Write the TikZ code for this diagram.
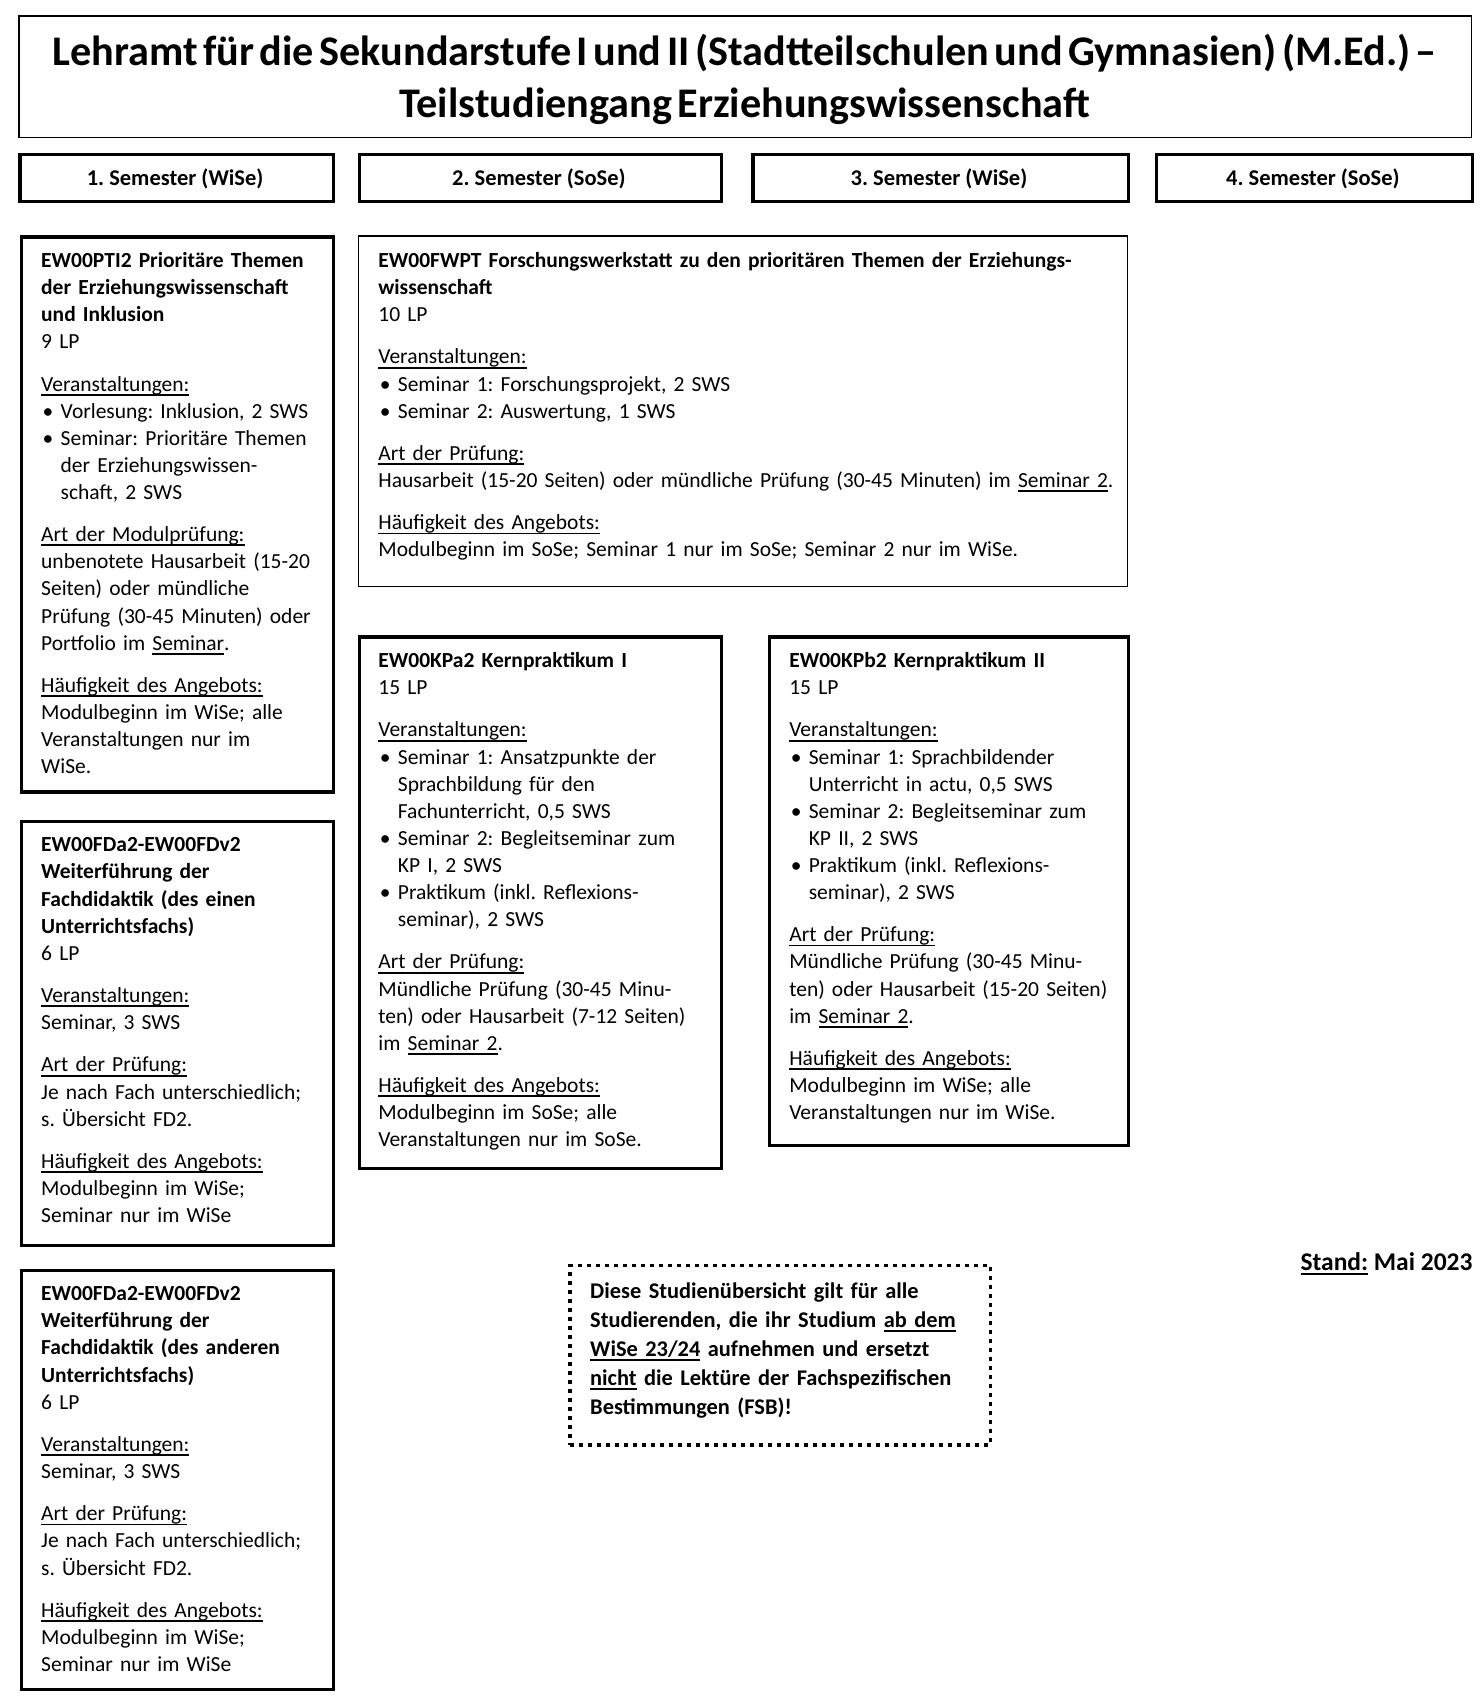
\documentclass[tikz,border=0pt]{standalone}
\usepackage{fontspec}
\setmainfont{Carlito}
\frenchspacing
\newcommand\myul[1]{\leavevmode{\setbox0\hbox{#1}\rlap{\rule[-4.6pt]{\wd0}{1.9pt}}\box0}}
\newcommand\bul{\makebox[19.5pt][l]{\hspace{1.5pt}\textbullet}}
\newcommand\ind{\leavevmode\hspace*{19.5pt}}
\newcommand\pgap{\\[15.2pt]}
\newcommand\bodyf{\fontsize{21.5pt}{27.1pt}\selectfont\frenchspacing}
\newcommand\titlef{\fontsize{42.2pt}{52.3pt}\selectfont\bfseries\spaceskip=0.13em\relax}
\tikzset{
  thinbox/.style={draw, line width=1.3pt, inner sep=0pt, anchor=north west},
  thickbox/.style={draw, line width=3.2pt, inner sep=0pt, anchor=north west},
  dotbox/.style={draw, line width=3.3pt, dash pattern=on 4.5pt off 4.5pt, inner sep=0pt, anchor=north west},
  modtext/.style={anchor=base west, inner sep=0pt, outer sep=0pt, align=left, text width=#1, font=\bodyf},
  semtext/.style={anchor=base, inner sep=0pt, font=\fontsize{22.5pt}{27pt}\selectfont\bfseries},
  titletext/.style={anchor=base, inner sep=0pt, font=\titlef},
}
\begin{document}
\begin{tikzpicture}[x=1pt,y=-1pt]
\fill[white] (0,0) rectangle (1481,1700);
\useasboundingbox (0,0) rectangle (1481,1700);

% title
\node[thinbox, minimum width=1452.6pt, minimum height=121.4pt] (titlebox) at (18.4,15.2) {};
\node[titletext] (title1) at (744.7,65.5) {Lehramt für die Sekundarstufe I und II (Stadtteilschulen und Gymnasien) (M.Ed.) –};
\node[titletext] (title2) at (744.7,117.8) {Teilstudiengang Erziehungswissenschaft};

% semester headers
\node[thickbox, minimum width=313.4pt, minimum height=46.6pt] (s1) at (18.4,152.9) {};
\node[thickbox, minimum width=362.1pt, minimum height=46.6pt] (s2) at (357.8,152.9) {};
\node[thickbox, minimum width=375.1pt, minimum height=46.6pt] (s3) at (751.4,152.9) {};
\node[thickbox, minimum width=316.3pt, minimum height=46.6pt] (s4) at (1154.7,152.9) {};
\node[semtext] (s1t) at (175.1,185) {1. Semester (WiSe)};
\node[semtext] (s2t) at (538.9,185) {2. Semester (SoSe)};
\node[semtext] (s3t) at (939,185) {3. Semester (WiSe)};
\node[semtext] (s4t) at (1312.9,185) {4. Semester (SoSe)};

% column 1
\node[thickbox, minimum width=312.3pt, minimum height=555.1pt] (pti) at (19.5,235.3) {};
\node[modtext=300pt] (ptit) at (41.2,267.4) {%
\textbf{EW00PTI2 Prioritäre Themen}\\
\textbf{der Erziehungswissenschaft}\\
\textbf{und Inklusion}\\
9 LP\pgap
\myul{Veranstaltungen:}\\
\bul Vorlesung: Inklusion, 2 SWS\\
\bul Seminar: Prioritäre Themen\\
\ind der Erziehungswissen-\\
\ind schaft, 2 SWS\pgap
\myul{Art der Modulprüfung:}\\
unbenotete Hausarbeit (15-20\\
Seiten) oder mündliche\\
Prüfung (30-45 Minuten) oder\\
Portfolio im \myul{Seminar}.\pgap
\myul{Häufigkeit des Angebots:}\\
Modulbeginn im WiSe; alle\\
Veranstaltungen nur im\\
WiSe.};

\node[thickbox, minimum width=312.3pt, minimum height=423.9pt] (fda) at (19.5,819.7) {};
\node[modtext=300pt] (fdat) at (41.2,851.8) {%
\textbf{EW00FDa2-EW00FDv2}\\
\textbf{Weiterführung der}\\
\textbf{Fachdidaktik (des einen}\\
\textbf{Unterrichtsfachs)}\\
6 LP\pgap
\myul{Veranstaltungen:}\\
Seminar, 3 SWS\pgap
\myul{Art der Prüfung:}\\
Je nach Fach unterschiedlich;\\
s. Übersicht FD2.\pgap
\myul{Häufigkeit des Angebots:}\\
Modulbeginn im WiSe;\\
Seminar nur im WiSe};

\node[thickbox, minimum width=312.3pt, minimum height=419.6pt] (fdb) at (19.5,1268.5) {};
\node[modtext=300pt] (fdbt) at (41.2,1300.7) {%
\textbf{EW00FDa2-EW00FDv2}\\
\textbf{Weiterführung der}\\
\textbf{Fachdidaktik (des anderen}\\
\textbf{Unterrichtsfachs)}\\
6 LP\pgap
\myul{Veranstaltungen:}\\
Seminar, 3 SWS\pgap
\myul{Art der Prüfung:}\\
Je nach Fach unterschiedlich;\\
s. Übersicht FD2.\pgap
\myul{Häufigkeit des Angebots:}\\
Modulbeginn im WiSe;\\
Seminar nur im WiSe};

% Forschungswerkstatt
\node[thinbox, minimum width=768.7pt, minimum height=350.2pt] (fw) at (357.8,235.3) {};
\node[modtext=745pt] (fwt) at (378.4,267.4) {%
\textbf{EW00FWPT Forschungswerkstatt zu den prioritären Themen der Erziehungs-}\\
\textbf{wissenschaft}\\
10 LP\pgap
\myul{Veranstaltungen:}\\
\bul Seminar 1: Forschungsprojekt, 2 SWS\\
\bul Seminar 2: Auswertung, 1 SWS\pgap
\myul{Art der Prüfung:}\\
Hausarbeit (15-20 Seiten) oder mündliche Prüfung (30-45 Minuten) im \myul{Seminar 2}.\pgap
\myul{Häufigkeit des Angebots:}\\
Modulbeginn im SoSe; Seminar 1 nur im SoSe; Seminar 2 nur im WiSe.};

% Kernpraktikum I
\node[thickbox, minimum width=362.1pt, minimum height=531.3pt] (kpa) at (357.8,635.3) {};
\node[modtext=350pt] (kpat) at (378.4,667.5) {%
\textbf{EW00KPa2 Kernpraktikum I}\\
15 LP\pgap
\myul{Veranstaltungen:}\\
\bul Seminar 1: Ansatzpunkte der\\
\ind Sprachbildung für den\\
\ind Fachunterricht, 0,5 SWS\\
\bul Seminar 2: Begleitseminar zum\\
\ind KP I, 2 SWS\\
\bul Praktikum (inkl. Reflexions-\\
\ind seminar), 2 SWS\pgap
\myul{Art der Prüfung:}\\
Mündliche Prüfung (30-45 Minu-\\
ten) oder Hausarbeit (7-12 Seiten)\\
im \myul{Seminar 2}.\pgap
\myul{Häufigkeit des Angebots:}\\
Modulbeginn im SoSe; alle\\
Veranstaltungen nur im SoSe.};

% Kernpraktikum II
\node[thickbox, minimum width=358.9pt, minimum height=508.5pt] (kpb) at (767.6,635.3) {};
\node[modtext=350pt] (kpbt) at (789.3,667.5) {%
\textbf{EW00KPb2 Kernpraktikum II}\\
15 LP\pgap
\myul{Veranstaltungen:}\\
\bul Seminar 1: Sprachbildender\\
\ind Unterricht in actu, 0,5 SWS\\
\bul Seminar 2: Begleitseminar zum\\
\ind KP II, 2 SWS\\
\bul Praktikum (inkl. Reflexions-\\
\ind seminar), 2 SWS\pgap
\myul{Art der Prüfung:}\\
Mündliche Prüfung (30-45 Minu-\\
ten) oder Hausarbeit (15-20 Seiten)\\
im \myul{Seminar 2}.\pgap
\myul{Häufigkeit des Angebots:}\\
Modulbeginn im WiSe; alle\\
Veranstaltungen nur im WiSe.};

% note box
\node[dotbox, minimum width=420.4pt, minimum height=179.3pt] (note) at (568.3,1264) {};
\node[anchor=base west, inner sep=0pt, align=left, text width=400pt, font=\fontsize{22.4pt}{29pt}\selectfont\bfseries] (notet) at (590,1298.3) {%
Diese Studienübersicht gilt für alle\\
Studierenden, die ihr Studium \myul{ab dem}\\
\myul{WiSe 23/24} aufnehmen und ersetzt\\
\myul{nicht} die Lektüre der Fachspezifischen\\
Bestimmungen (FSB)!};

% date
\node[anchor=base east, inner sep=0pt, font=\fontsize{25.5pt}{27pt}\selectfont\bfseries] (stand) at (1472.7,1270) {\myul{Stand:} Mai 2023};
\end{tikzpicture}
\end{document}
